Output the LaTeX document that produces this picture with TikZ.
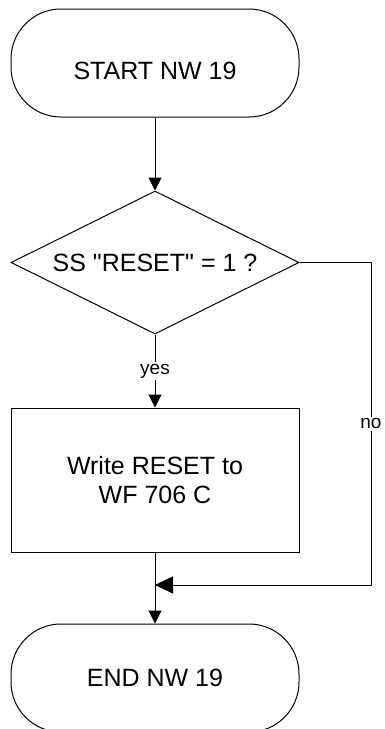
\documentclass[tikz,border=0pt]{standalone}
\usepackage{fontspec}
\setmainfont{Liberation Sans}
\usetikzlibrary{shapes.geometric, arrows.meta, positioning}
\tikzset{
  terminal/.style={rectangle, rounded corners=50pt, draw=black, line width=1pt, minimum width=288pt, minimum height=108pt, inner sep=0pt, align=center, font=\fontsize{25}{29}\selectfont},
  decision/.style={diamond, aspect=2, draw=black, line width=1pt, minimum width=288pt, minimum height=143pt, inner sep=0pt, align=center, font=\fontsize{25}{29}\selectfont},
  process/.style={rectangle, draw=black, line width=1pt, minimum width=288pt, minimum height=144pt, inner sep=0pt, align=center, font=\fontsize{25}{29}\selectfont},
  tag/.style={fill=white, inner sep=2pt, font=\fontsize{19}{22}\selectfont},
  arrow/.style={-{Triangle[length=13pt, width=13pt]}, line width=1pt},
  bigarrow/.style={-{Triangle[length=18pt, width=17pt]}, line width=1pt}
}

\begin{document}
\begin{tikzpicture}[x=1pt, y=-1pt, node distance=73pt]
  \useasboundingbox (0,0) rectangle (384,729);
  \node[terminal, text height=33pt, text depth=0pt] (start) at (155,63) {START NW 19};
  \node[decision, below=of start] (dec) {SS \textquotedbl RESET\textquotedbl{} = 1 ?};
  \node[process, below=of dec] (write) {Write RESET to\\WF 706 C};
  \node[terminal, below=71pt of write] (stop) {END NW 19};
  \coordinate (join) at (155,585);
  \coordinate (noturn) at (371,585);
  \draw[arrow] (start) -- (dec);
  \draw[arrow] (dec) -- node[tag]{yes} (write);
  \draw[arrow] (write) -- (stop);
  \draw[bigarrow] (dec.east) -| node[pos=0.75, tag]{no} (noturn) -- (join);
\end{tikzpicture}
\end{document}
